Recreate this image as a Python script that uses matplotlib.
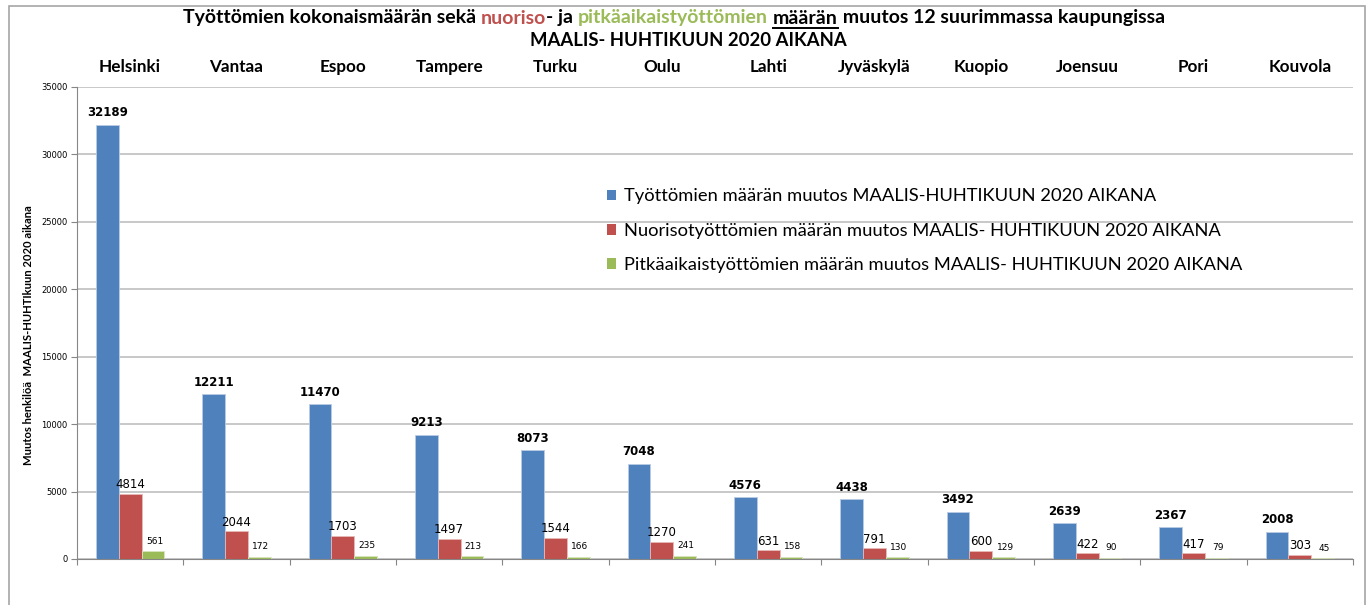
import numpy as np
import matplotlib
matplotlib.use("Agg")
import matplotlib.pyplot as plt
from matplotlib.patches import Patch, Rectangle
from matplotlib.lines import Line2D

# Data
cities = ["Helsinki", "Vantaa", "Espoo", "Tampere", "Turku", "Oulu",
          "Lahti", "Jyväskylä", "Kuopio", "Joensuu", "Pori", "Kouvola"]
total_change = [32189, 12211, 11470, 9213, 8073, 7048, 4576, 4438, 3492, 2639, 2367, 2008]
youth_change = [4814, 2044, 1703, 1497, 1544, 1270, 631, 791, 600, 422, 417, 303]
longterm_change = [561, 172, 235, 213, 166, 241, 158, 130, 129, 90, 79, 45]

series_labels = [
    "Työttömien määrän muutos MAALIS-HUHTIKUUN 2020 AIKANA",
    "Nuorisotyöttömien määrän muutos MAALIS- HUHTIKUUN 2020 AIKANA",
    "Pitkäaikaistyöttömien määrän muutos MAALIS- HUHTIKUUN 2020 AIKANA",
]
BLUE, RED, GREEN = "#4F81BD", "#C0504D", "#9BBB59"
TITLE_FONT = ["Lato", "DejaVu Sans"]

fig = plt.figure(figsize=(13.69, 6.05), dpi=100)
ax = fig.add_axes([77 / 1369, 46 / 605, 1276 / 1369, 472 / 605])

x = np.arange(len(cities))
w = 0.215
ax.bar(x - w, total_change, w, color=BLUE, edgecolor="#B8CCE4", linewidth=0.6)
ax.bar(x, youth_change, w, color=RED, edgecolor="#E6B9B8", linewidth=0.6)
ax.bar(x + w, longterm_change, w, color=GREEN, edgecolor="#D7E4BD", linewidth=0.6)

# value labels
for xi, v in zip(x, total_change):
    ax.annotate(str(v), (xi - w, v), xytext=(0, 4), textcoords="offset points",
                ha="center", va="bottom", fontsize=8.5, fontweight="bold")
for xi, v in zip(x, youth_change):
    ax.annotate(str(v), (xi, v), xytext=(0, 2), textcoords="offset points",
                ha="center", va="bottom", fontsize=8.5)
for xi, v in zip(x, longterm_change):
    ax.annotate(str(v), (xi + w, v), xytext=(1, 4), textcoords="offset points",
                ha="center", va="bottom", fontsize=6.5)

ax.set_xlim(-0.5, len(cities) - 0.5)
ax.set_ylim(0, 35000)
ax.set_yticks(np.arange(0, 35001, 5000))
ax.tick_params(axis="y", labelsize=6, length=4, color="#868686", pad=3)
ax.yaxis.grid(True, color="#BFBFBF", linewidth=1.2)
ax.set_axisbelow(True)

# category labels on top, tick marks between categories at bottom
ax.set_xticks(np.arange(-0.5, len(cities), 1.0))
ax.set_xticklabels([])
ax.tick_params(axis="x", length=4, color="#868686", direction="out")
for xi, name in zip(x, cities):
    ax.text(xi, (559 - 67) / 472, name, transform=ax.get_xaxis_transform(), ha="center",
            va="center", fontsize=12.3, fontweight="bold", family=TITLE_FONT)

for side in ["top", "right"]:
    ax.spines[side].set_visible(False)
for side in ["left", "bottom"]:
    ax.spines[side].set_color("#868686")

ax.set_ylabel("Muutos henkilöä  MAALIS-HUHTIkuun 2020 aikana", fontsize=8.1,
              fontweight="bold", family=TITLE_FONT)
ax.yaxis.set_label_coords(-43 / 1276, (559 - 335) / 472)

handles = [Patch(facecolor=c, edgecolor="none") for c in (BLUE, RED, GREEN)]
ax.legend(handles, series_labels, loc="upper left",
          bbox_to_anchor=((590 - 77) / 1276, (559 - 172) / 472),
          frameon=False, handlelength=0.5, handleheight=0.5,
          handletextpad=0.45, labelspacing=1.0, prop={"family": TITLE_FONT, "size": 13.2})

# title with coloured words, built piece by piece
pieces = [("Työttömien kokonaismäärän sekä ", "black"), ("nuoriso", RED),
          ("- ja ", "black"), ("pitkäaikaistyöttömien", GREEN), (" ", "black"),
          ("määrän", "black"), (" muutos 12 suurimmassa kaupungissa", "black")]
y1 = 1 - 18 / 605
texts = [fig.text(0, y1, s, color=c, fontsize=14, fontweight="bold",
                  family=TITLE_FONT, va="center", ha="left") for s, c in pieces]
fig.canvas.draw()
r = fig.canvas.get_renderer()
widths = [t.get_window_extent(r).width for t in texts]
total = sum(widths)
start = 674 - total / 2
cur = start
for t, wd in zip(texts, widths):
    t.set_x(cur / fig.bbox.width)
    cur += wd
# underline "määrän"
ux0 = (start + sum(widths[:5])) / fig.bbox.width
ux1 = (start + sum(widths[:6])) / fig.bbox.width
uy = 1 - 28 / 605
fig.add_artist(Line2D([ux0, ux1], [uy, uy], color="black", linewidth=1.4,
                      transform=fig.transFigure))

fig.text(688 / 1369, 1 - 40 / 605, "MAALIS- HUHTIKUUN 2020 AIKANA", ha="center", va="center",
         fontsize=13.3, fontweight="bold", family=TITLE_FONT)

# outer chart border
fig.add_artist(Rectangle((9 / 1369, -0.05), 1356 / 1369, 1.05 - 6 / 605, fill=False,
                         edgecolor="#A6A6A6", linewidth=1.2, transform=fig.transFigure))

fig.savefig("out.png", dpi=100)
